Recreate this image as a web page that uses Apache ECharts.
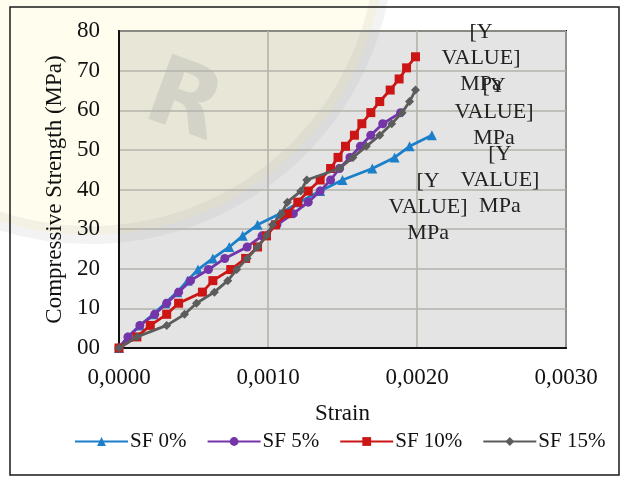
<!DOCTYPE html>
<html>
<head>
<meta charset="utf-8">
<script src="https://cdn.jsdelivr.net/npm/echarts@6/dist/echarts.min.js"></script>
<style>
html,body{margin:0;padding:0;background:#fff;}
#chart{width:621px;height:477px;}
</style>
</head>
<body>
<div id="chart"></div>
<script>
// ---- data ----
const seriesNames = ['SF 0%', 'SF 5%', 'SF 10%', 'SF 15%'];
const xTicks = [0, 0.001, 0.002, 0.003];
const yTicks = [0, 10, 20, 30, 40, 50, 60, 70, 80];

const strainSF0 = [0, 0.00006, 0.00014, 0.00023, 0.00031, 0.00039, 0.00046, 0.00053, 0.00063, 0.00074, 0.00083, 0.00093, 0.00108, 0.00121, 0.00135, 0.00150, 0.00170, 0.00185, 0.00195, 0.00210];
const stressSF0 = [0, 2.8, 5.7, 8.5, 11.3, 14.1, 17.0, 19.8, 22.6, 25.5, 28.3, 31.1, 33.9, 36.8, 39.6, 42.4, 45.3, 48.1, 50.9, 53.7];

const strainSF5 = [0, 0.00006, 0.00014, 0.00024, 0.00032, 0.00040, 0.00048, 0.00060, 0.00071, 0.00086, 0.00096, 0.00106, 0.00117, 0.00127, 0.00135, 0.00142, 0.00148, 0.00155, 0.00162, 0.00169, 0.00177, 0.00189];
const stressSF5 = [0, 2.8, 5.7, 8.5, 11.3, 14.1, 17.0, 19.8, 22.6, 25.5, 28.3, 31.1, 33.9, 36.8, 39.6, 42.4, 45.3, 48.1, 50.9, 53.7, 56.6, 59.4];

const strainSF10 = [0, 0.00012, 0.00021, 0.00032, 0.00040, 0.00056, 0.00063, 0.00075, 0.00085, 0.00093, 0.00099, 0.00105, 0.00113, 0.00120, 0.00127, 0.00135, 0.00142, 0.00147, 0.00152, 0.00158, 0.00163, 0.00169, 0.00175, 0.00182, 0.00188, 0.00193, 0.00199];
const stressSF10 = [0, 2.8, 5.7, 8.5, 11.3, 14.1, 17.0, 19.8, 22.6, 25.5, 28.3, 31.1, 33.9, 36.8, 39.6, 42.4, 45.3, 48.1, 50.9, 53.7, 56.6, 59.4, 62.2, 65.1, 67.9, 70.7, 73.5];

const strainSF15 = [0, 0.00012, 0.00032, 0.00044, 0.00052, 0.00064, 0.00073, 0.00079, 0.00086, 0.00093, 0.00099, 0.00103, 0.00109, 0.00113, 0.00122, 0.00126, 0.00148, 0.00157, 0.00166, 0.00175, 0.00183, 0.00190, 0.00195, 0.00199];
const stressSF15 = [0, 2.8, 5.7, 8.5, 11.3, 14.1, 17.0, 19.8, 22.6, 25.5, 28.3, 31.1, 33.9, 36.8, 39.6, 42.4, 45.3, 48.1, 50.9, 53.7, 56.6, 59.4, 62.2, 65.1];

const labelLines = ['[Y', 'VALUE]', 'MPa'];

// ---- styles ----
const FONT = "'Times New Roman', 'Liberation Serif', serif";
const colors = ['#1b7fca', '#7435a8', '#cc1616', '#5c5c5c'];
const symbols = ['triangle', 'circle', 'rect', 'diamond'];
const symbolSizes = [10, 9, 9, 9];
const labelOffsets = [[58, 45], [18, 95], [56, 1], [69, 22]];

const strains = [strainSF0, strainSF5, strainSF10, strainSF15];
const stresses = [stressSF0, stressSF5, stressSF10, stressSF15];

const series = seriesNames.map((name, s) => {
  const xs = strains[s], ys = stresses[s];
  const data = xs.map((x, i) => {
    const item = { value: [x, ys[i]] };
    if (i === xs.length - 1) {
      item.label = {
        show: true,
        position: 'right',
        offset: labelOffsets[s],
        formatter: labelLines.join('\n'),
        align: 'center',
        verticalAlign: 'middle',
        color: '#222',
        fontFamily: FONT,
        fontSize: 22,
        lineHeight: 26
      };
    }
    return item;
  });
  return {
    name,
    type: 'line',
    data,
    symbol: symbols[s],
    symbolSize: symbolSizes[s],
    showAllSymbol: true,
    lineStyle: { color: colors[s], width: 2.8 },
    itemStyle: { color: colors[s] },
    emphasis: { disabled: true },
    animation: false,
    z: 2 + s
  };
});

const chart = echarts.init(document.getElementById('chart'), null, { renderer: 'canvas' });
chart.setOption({
  animation: false,
  backgroundColor: '#ffffff',
  color: colors,
  textStyle: { fontFamily: FONT },
  graphic: [
    { type: 'rect', z: -20, shape: { x: 119, y: 31, width: 447, height: 317 }, style: { fill: '#e4e4e4' }, silent: true },
    { type: 'circle', z: -19, shape: { cx: 90, cy: -60, r: 295 }, style: { fill: 'rgba(255,240,140,0.16)', stroke: 'rgba(160,160,160,0.13)', lineWidth: 18 }, silent: true },
    { type: 'text', z: -18, x: 165, y: 48, rotation: -0.35, style: { text: 'R', fill: 'rgba(150,150,150,0.24)', font: 'bold 95px "DejaVu Sans", sans-serif' }, silent: true },
    { type: 'rect', z: 50, shape: { x: 10, y: 7, width: 609, height: 468 }, style: { fill: 'none', stroke: '#1a1a1a', lineWidth: 1.5 }, silent: true }
  ],
  grid: {
    left: 119, right: 55, top: 31, bottom: 129,
    show: true, borderColor: '#111', borderWidth: 2, backgroundColor: 'transparent'
  },
  legend: {
    data: seriesNames,
    left: 74,
    top: 431,
    padding: 0,
    itemWidth: 53,
    itemHeight: 11,
    itemGap: 20,
    textStyle: { fontFamily: FONT, fontSize: 21, color: '#111', padding: [0, 0, 0, -3] }
  },
  xAxis: {
    type: 'value',
    min: xTicks[0],
    max: xTicks[xTicks.length - 1],
    interval: xTicks[1] - xTicks[0],
    name: 'Strain',
    nameLocation: 'middle',
    nameGap: 54,
    nameTextStyle: { fontFamily: FONT, fontSize: 23, color: '#111' },
    axisLine: { show: true, lineStyle: { color: '#111', width: 2 } },
    axisTick: { show: false },
    axisLabel: {
      margin: 18,
      fontFamily: FONT, fontSize: 23, color: '#111',
      formatter: v => v.toFixed(4).replace('.', ',')
    },
    splitLine: { show: true, lineStyle: { color: '#b3b3ab', width: 1.6 } }
  },
  yAxis: {
    type: 'value',
    min: yTicks[0],
    max: yTicks[yTicks.length - 1],
    interval: yTicks[1] - yTicks[0],
    name: 'Compressive Strength (MPa)',
    nameLocation: 'middle',
    nameGap: 53,
    nameTextStyle: { fontFamily: FONT, fontSize: 23, color: '#111' },
    axisLine: { show: true, lineStyle: { color: '#111', width: 2 } },
    axisTick: { show: false },
    axisLabel: {
      margin: 19,
      fontFamily: FONT, fontSize: 23, color: '#111',
      formatter: v => String(v).padStart(2, '0')
    },
    splitLine: { show: true, lineStyle: { color: '#b3b3ab', width: 1.6 } }
  },
  series
});
</script>
</body>
</html>
